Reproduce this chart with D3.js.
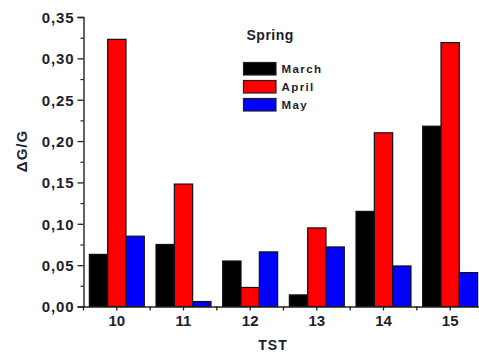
<!DOCTYPE html>
<html><head><meta charset="utf-8">
<script src="https://cdn.jsdelivr.net/npm/d3@7"></script>
<style>body{margin:0;background:#fff}svg{display:block}text{font-family:"Liberation Sans",Arial,sans-serif;font-weight:bold;fill:#1e1e2e}</style>
</head><body><svg id="c" width="479" height="353"></svg>
<script>
const categories = ["10","11","12","13","14","15"];
const seriesNames = ["March","April","May"];
const march = [0.063, 0.075, 0.055, 0.014, 0.115, 0.218];
const april = [0.323, 0.148, 0.023, 0.095, 0.210, 0.319];
const may = [0.085, 0.006, 0.066, 0.072, 0.049, 0.041];
const colors = ["#000000","#ff0000","#0000ff"];
const yTicks = [0,0.05,0.10,0.15,0.20,0.25,0.30,0.35];
const yMinor = [0.025,0.075,0.125,0.175,0.225,0.275,0.325];
const legendTitle = "Spring";
const xTitle = "TST";
const yTitle = "ΔG/G";

const values = [march, april, may];
const svg = d3.select("#c");
const L = 83.5, R = 483.5, T = 17, B = 306.5;
const x = d3.scaleBand().domain(categories).range([L, R]).padding(0);
const xs = d3.scaleBand().domain(seriesNames).range([0, x.bandwidth()]).paddingInner(0).paddingOuter(0.32);
const y = d3.scaleLinear().domain([0, 0.35]).range([B, T]);
const fmt = d => d3.format(".2f")(d).replace(".", ",");

// bars
categories.forEach((c, i) => {
  seriesNames.forEach((s, j) => {
    svg.append("rect")
      .attr("x", x(c) + xs(s))
      .attr("y", y(values[j][i]))
      .attr("width", xs.bandwidth())
      .attr("height", B - y(values[j][i]))
      .attr("fill", colors[j])
      .attr("stroke", "#111").attr("stroke-width", 1.2);
  });
});

// y axis
const ya = svg.append("g").attr("transform", `translate(${L},0)`)
  .call(d3.axisLeft(y).tickValues(yTicks).tickFormat(fmt).tickSize(6).tickPadding(3));
ya.select(".domain").attr("stroke", "#222").attr("stroke-width", 1.4);
ya.selectAll(".tick line").attr("stroke", "#222").attr("stroke-width", 1.3);
ya.selectAll(".tick text").style("font-size", "15px").style("letter-spacing", "0.9px").attr("dy", "0.36em");
svg.append("g").attr("transform", `translate(${L},0)`)
  .call(d3.axisLeft(y).tickValues(yMinor).tickFormat("").tickSize(3))
  .call(g => g.select(".domain").remove())
  .selectAll("line").attr("stroke", "#222").attr("stroke-width", 1.2);

// x axis
const xa = svg.append("g").attr("transform", `translate(0,${B})`)
  .call(d3.axisBottom(x).tickSize(4).tickPadding(5).tickSizeOuter(0));
xa.select(".domain").attr("stroke", "#222").attr("stroke-width", 1.4);
xa.selectAll(".tick line").attr("stroke", "#222").attr("stroke-width", 1.3);
xa.selectAll(".tick text").style("font-size", "15px");
svg.append("g").attr("transform", `translate(0,${B})`)
  .selectAll("line").data(categories).join("line")
  .attr("x1", d => x(d)).attr("x2", d => x(d)).attr("y1", 0).attr("y2", 4)
  .attr("stroke", "#222").attr("stroke-width", 1.3);

// titles
svg.append("text").attr("x", 273).attr("y", 350).attr("text-anchor", "middle")
  .style("font-size", "14px").style("letter-spacing", "1px").text(xTitle);
svg.append("text").attr("transform", "translate(27,151) rotate(-90)").attr("text-anchor", "middle")
  .style("font-size", "15px").style("letter-spacing", "1px").text(yTitle);

// legend
svg.append("text").attr("x", 246.5).attr("y", 40).style("font-size", "14px").style("letter-spacing", "0.5px").text(legendTitle);
const lg = svg.append("g");
seriesNames.forEach((s, j) => {
  const cy = 69 + j * 18;
  lg.append("rect").attr("x", 243.5).attr("y", cy - 6.5).attr("width", 32.5).attr("height", 12.5)
    .attr("fill", colors[j]).attr("stroke", "#222").attr("stroke-width", 1.2);
  lg.append("text").attr("x", 281.5).attr("y", cy + 4).style("font-size", "11.5px").style("letter-spacing", "1.4px").text(s);
});
</script></body></html>
